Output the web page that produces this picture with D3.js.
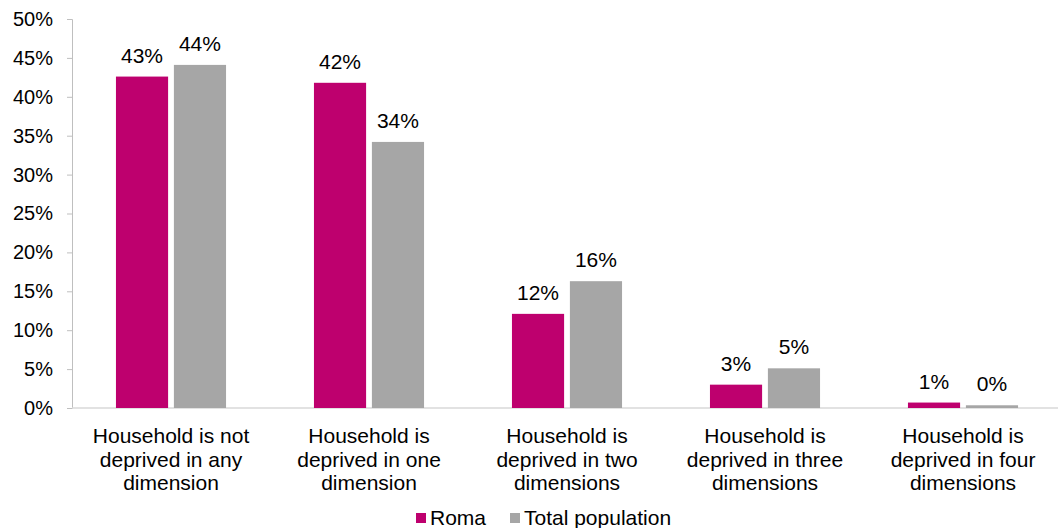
<!DOCTYPE html>
<html>
<head>
<meta charset="utf-8">
<script src="https://cdn.jsdelivr.net/npm/d3@7"></script>
<style>
  body { margin: 0; background: #fff; }
  text { font-family: "Liberation Sans", Arial, sans-serif; fill: #000; }
</style>
</head>
<body>
<div id="chart"></div>
<script>
// data
const categories = [
    ["Household is not", "deprived in any", "dimension"],
    ["Household is", "deprived in one", "dimension"],
    ["Household is", "deprived in two", "dimensions"],
    ["Household is", "deprived in three", "dimensions"],
    ["Household is", "deprived in four", "dimensions"]
];
const seriesNames = ["Roma", "Total population"];
const romaValues = [42.6, 41.8, 12.1, 3.0, 0.7];
const totalValues = [44.1, 34.2, 16.3, 5.1, 0.35];
const romaLabels = ["43%", "42%", "12%", "3%", "1%"];
const totalLabels = ["44%", "34%", "16%", "5%", "0%"];
const yTicks = [0, 5, 10, 15, 20, 25, 30, 35, 40, 45, 50];
const colors = ["#BE006E", "#A6A6A6"];

const width = 1058, height = 528;
const margin = { top: 19, right: -4, bottom: 120, left: 72 };
const innerW = width - margin.left - margin.right;
const innerH = height - margin.top - margin.bottom;

const svg = d3.select("#chart").append("svg")
    .attr("width", width)
    .attr("height", height);

const chart = svg.append("g")
    .attr("transform", `translate(${margin.left},${margin.top})`);

const x = d3.scaleBand()
    .domain(d3.range(categories.length))
    .range([0, innerW])
    .paddingInner(0.444)
    .paddingOuter(0.222);

const xSub = d3.scaleBand()
    .domain([0, 1])
    .range([0, x.bandwidth()])
    .paddingInner(0.1);

const y = d3.scaleLinear()
    .domain([0, 50])
    .range([innerH, 0]);

// y axis
const yAxis = chart.append("g")
    .call(d3.axisLeft(y).tickValues(yTicks).tickFormat(d => d + "%").tickSize(5).tickSizeOuter(5));
yAxis.select(".domain").attr("stroke", "#BFBFBF");
yAxis.selectAll(".tick line").attr("stroke", "#BFBFBF");
yAxis.selectAll(".tick text")
    .attr("x", -19)
    .style("font-size", "20px")
    .style("font-family", "Liberation Sans, Arial, sans-serif")
    .attr("fill", "#000");

// x baseline
chart.append("line")
    .attr("x1", 0).attr("x2", innerW)
    .attr("y1", y(0)).attr("y2", y(0))
    .attr("stroke", "#D9D9D9")
    .attr("stroke-width", 1.5);

const rows = categories.map((c, i) => ({ i, values: [romaValues[i], totalValues[i]], labels: [romaLabels[i], totalLabels[i]] }));

const groups = chart.selectAll(".grp")
    .data(rows)
    .join("g")
    .attr("class", "grp")
    .attr("transform", d => `translate(${x(d.i)},0)`);

groups.selectAll("rect")
    .data(d => d.values.map((v, s) => ({ v, s })))
    .join("rect")
    .attr("x", d => xSub(d.s))
    .attr("width", xSub.bandwidth())
    .attr("y", d => y(d.v))
    .attr("height", d => y(0) - y(d.v))
    .attr("fill", d => colors[d.s]);

groups.selectAll("text.val")
    .data(d => d.values.map((v, s) => ({ v, s, label: d.labels[s] })))
    .join("text")
    .attr("class", "val")
    .attr("x", d => xSub(d.s) + xSub.bandwidth() / 2)
    .attr("y", d => y(d.v) - 14)
    .attr("text-anchor", "middle")
    .style("font-size", "21px")
    .text(d => d.label);

// category labels
const catLabels = chart.selectAll(".cat")
    .data(categories)
    .join("text")
    .attr("class", "cat")
    .attr("text-anchor", "middle")
    .attr("transform", (d, i) => `translate(${x(i) + x.bandwidth() / 2},${innerH + 35})`)
    .style("font-size", "21px");

catLabels.selectAll("tspan")
    .data(d => d)
    .join("tspan")
    .attr("x", 0)
    .attr("dy", (d, i) => i === 0 ? 0 : 23.5)
    .text(d => d);

// legend
const legend = svg.append("g")
    .attr("transform", "translate(416,518)");
const legendOffsets = [0, 94];
const items = legend.selectAll("g")
    .data(seriesNames)
    .join("g")
    .attr("transform", (d, i) => `translate(${legendOffsets[i]},0)`);
items.append("rect")
    .attr("x", 0).attr("y", -5)
    .attr("width", 10).attr("height", 10)
    .attr("fill", (d, i) => colors[i]);
items.append("text")
    .attr("x", 14)
    .attr("y", 7)
    .style("font-size", "21px")
    .text(d => d);
</script>
</body>
</html>
